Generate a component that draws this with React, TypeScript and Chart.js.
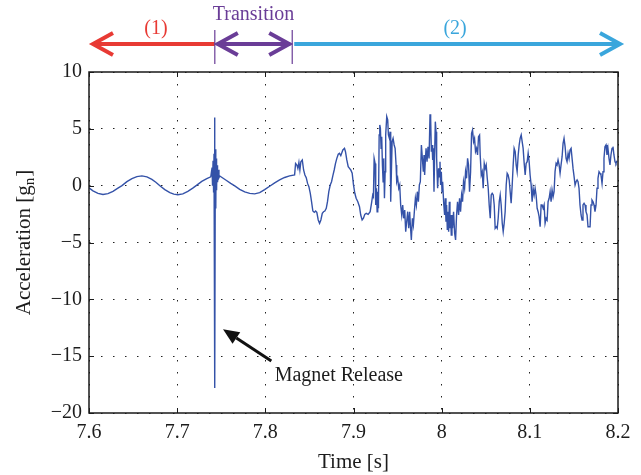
import React, { useEffect, useRef } from "react";
import { Chart, registerables } from "chart.js";
Chart.register(...registerables);

// ---- data ----
const times = [
  7.6000, 7.6045, 7.6102, 7.6159, 7.6215, 7.6272, 7.6328, 7.6374, 7.6430, 7.6487,
  7.6543, 7.6600, 7.6657, 7.6713, 7.6758, 7.6804, 7.6860, 7.6917, 7.6962, 7.7008,
  7.7064, 7.7121, 7.7177, 7.7223, 7.7279, 7.7336, 7.7381,
  7.7396, 7.7401, 7.7407, 7.7413, 7.7418, 7.7423, 7.7429, 7.7433, 7.7438, 7.7442,
  7.7447, 7.7452, 7.7458, 7.7465, 7.7474, 7.7483,
  7.7551, 7.7607, 7.7653, 7.7709, 7.7766, 7.7823, 7.7879, 7.7936, 7.7992, 7.8049,
  7.8106, 7.8162, 7.8219, 7.8275,
  7.8332, 7.8343, 7.8358, 7.8369, 7.8381, 7.8392, 7.8403, 7.8419, 7.8434, 7.8449,
  7.8464, 7.8479, 7.8494, 7.8510, 7.8524, 7.8539, 7.8555, 7.8570, 7.8584, 7.8600,
  7.8615, 7.8630, 7.8646, 7.8660, 7.8675, 7.8691, 7.8705, 7.8720, 7.8736, 7.8751,
  7.8766, 7.8781, 7.8796, 7.8811, 7.8827, 7.8841, 7.8856,
  7.8879, 7.8898, 7.8909, 7.8924, 7.8940, 7.8955, 7.8969, 7.8985, 7.9000, 7.9015,
  7.9030, 7.9049, 7.9068, 7.9082, 7.9098, 7.9113, 7.9128, 7.9144, 7.9166, 7.9189,
  7.9204, 7.9218, 7.9226, 7.9234, 7.9245, 7.9252, 7.9260, 7.9268, 7.9275, 7.9283,
  7.9291, 7.9298, 7.9305, 7.9313, 7.9320, 7.9328, 7.9336, 7.9343, 7.9351, 7.9359,
  7.9365, 7.9377, 7.9388, 7.9396, 7.9407, 7.9415, 7.9422, 7.9430, 7.9438, 7.9449,
  7.9461, 7.9472, 7.9483, 7.9490, 7.9501, 7.9513, 7.9524, 7.9535, 7.9547, 7.9558,
  7.9569, 7.9581, 7.9592, 7.9603, 7.9615, 7.9626, 7.9637,
  7.9645, 7.9656, 7.9668, 7.9679, 7.9690, 7.9702, 7.9713, 7.9724, 7.9736, 7.9747,
  7.9758, 7.9770, 7.9781, 7.9792, 7.9800, 7.9807, 7.9815, 7.9823, 7.9834, 7.9845,
  7.9857, 7.9868, 7.9875, 7.9883, 7.9891, 7.9898, 7.9905, 7.9913, 7.9920, 7.9928,
  7.9936, 7.9943, 7.9954, 7.9965, 7.9973, 7.9981, 7.9988, 7.9996, 8.0004, 8.0011,
  8.0022, 8.0033, 8.0041, 8.0049, 8.0056, 8.0064, 8.0072, 8.0079, 8.0087, 8.0094,
  8.0101, 8.0109, 8.0117, 8.0124, 8.0135, 8.0147, 8.0158, 8.0169, 8.0180, 8.0192,
  8.0203, 8.0214, 8.0226, 8.0237, 8.0248, 8.0260, 8.0271, 8.0282, 8.0294, 8.0305,
  8.0316, 8.0328, 8.0339, 8.0350, 8.0362, 8.0373, 8.0384, 8.0396, 8.0407, 8.0418,
  8.0430,
  8.0437, 8.0449, 8.0460, 8.0471, 8.0483, 8.0494, 8.0505, 8.0517, 8.0528, 8.0539,
  8.0551, 8.0562, 8.0573, 8.0585, 8.0596, 8.0607, 8.0619, 8.0630, 8.0641, 8.0653,
  8.0664, 8.0675, 8.0687, 8.0698, 8.0709, 8.0720, 8.0732, 8.0743, 8.0754, 8.0766,
  8.0777, 8.0788, 8.0800, 8.0811, 8.0822, 8.0834, 8.0845, 8.0856, 8.0868, 8.0879,
  8.0890, 8.0902, 8.0913, 8.0924, 8.0936, 8.0947, 8.0958, 8.0970, 8.0981, 8.0992,
  8.1003, 8.1015, 8.1026, 8.1037, 8.1049, 8.1060, 8.1071, 8.1083, 8.1094, 8.1105,
  8.1117, 8.1128, 8.1139, 8.1151, 8.1162, 8.1173, 8.1185, 8.1196, 8.1207, 8.1219,
  8.1230, 8.1241, 8.1252, 8.1264, 8.1275, 8.1286, 8.1298, 8.1309, 8.1320, 8.1332,
  8.1343, 8.1354, 8.1366, 8.1377, 8.1388, 8.1400, 8.1411, 8.1422, 8.1434, 8.1445,
  8.1456, 8.1468, 8.1479, 8.1490, 8.1502, 8.1513, 8.1524, 8.1536, 8.1547, 8.1558,
  8.1569, 8.1581, 8.1592, 8.1603, 8.1615, 8.1626, 8.1637, 8.1649, 8.1660, 8.1671,
  8.1683, 8.1694, 8.1705, 8.1717, 8.1728, 8.1739, 8.1751, 8.1762, 8.1773, 8.1785,
  8.1796, 8.1807, 8.1819, 8.1830, 8.1841, 8.1852, 8.1864, 8.1875, 8.1886, 8.1898,
  8.1909, 8.1920, 8.1932, 8.1943, 8.1954, 8.1966, 8.1977, 8.1988,
];

const accel = [
  -0.2, -0.45, -0.68, -0.78, -0.7, -0.5, -0.22, 0.0, 0.35, 0.62,
  0.8, 0.86, 0.78, 0.55, 0.3, 0.0, -0.35, -0.62, -0.75, -0.8,
  -0.72, -0.5, -0.22, 0.05, 0.38, 0.62, 0.78,
  1.6, 0.0, 2.2, -0.6, 2.8, 6.0, -17.8, 3.2, -2.0, 2.4,
  -0.4, 1.8, 0.3, 1.4, 0.7, 0.85,
  0.5, 0.2, -0.02, -0.32, -0.55, -0.68, -0.72, -0.62, -0.35, -0.05,
  0.25, 0.5, 0.72, 0.86,
  0.94, 1.96, 1.82, 1.52, 2.05, 1.38, 2.11, 2.26, 1.38, 0.94,
  0.7, 0.2, -0.09, -0.67, -1.41, -2.23, -2.35, -2.23, -2.35, -3.02,
  -3.31, -3.02, -2.43, -2.29, -2.23, -1.99, -1.41, -0.53, 0.06, 0.35,
  0.88, 1.38, 1.96, 2.4, 2.76, 2.84, 2.64,
  3.14, 3.28, 2.99, 2.26, 1.67, 1.52, 1.38, 1.09, 0.06, -0.67,
  -1.11, -1.41, -1.85, -2.58, -3.02, -2.87, -2.52, -2.43, -2.52, -2.29,
  -1.55, -0.82, -0.97, 2.4, 1.96, -1.7, -0.23, -2.29, -0.53, -1.99,
  4.46, 5.34, 5.04, 3.28, 4.31, 1.82, 0.35, 2.4, -1.11, 1.23,
  4.46, 6.07, 5.78, 4.46, 4.16, 4.75, -1.41, 1.23, 3.87, 4.16,
  3.58, 3.28, 1.82, 0.35, 0.65, -0.23, 0.06, -1.7, -2.58, -1.7,
  -2.87, -2.14, -4.05, -3.17, -2.29, -3.75, -2.29,
  -3.46, -4.78, -2.87, -3.46, -2.29, -1.11, -1.7, -0.53, -1.41, 0.06,
  0.35, 3.58, 2.4, 1.23, 2.7, 0.94, 2.26, 3.28, 2.11, 3.43,
  2.4, 6.28, 5.92, 2.99, 3.58, 2.26, 3.28, -0.53, 2.7, 5.63,
  4.75, 2.4, -0.23, 1.52, 0.79, 2.11, 0.06, 1.23, -0.53, 0.35,
  -1.41, -2.58, -1.11, -3.17, -1.7, -3.9, -2.29, -4.05, -1.41, -3.75,
  -2.58, -4.34, -2.58, -3.75, -2.29, -4.19, -4.78, -2.58, -1.41, -2.58,
  -1.11, -2.29, -0.82, -1.41, 0.35, -0.23, 1.23, 0.65, 2.4, 1.82,
  -0.53, 1.23, 4.6, 4.9, 3.87, 4.16, 2.99, 3.28, 2.7, 4.31,
  4.46,
  2.7, 0.94, 1.23, -0.23, 1.96, 1.52, 1.82, 0.65, -0.23, -1.7,
  -2.87, -0.82, -0.67, -0.82, -1.7, -3.75, -3.61, -3.75, -2.87, -1.41,
  -0.82, -1.7, -3.31, -4.05, -3.31, -2.29, 0.06, 1.09, 0.94, 0.5,
  -0.53, -1.55, 0.06, 1.82, 3.28, 2.99, 1.82, 1.23, 2.7, 3.58,
  4.16, 4.46, 3.87, 3.28, 1.96, 0.94, 1.96, 2.11, 2.84, 2.11,
  0.94, 0.06, -1.41, -0.23, -0.82, -0.23, -0.82, -1.99, -2.29, -2.73,
  -3.61, -1.7, -1.7, -1.99, -1.7, -3.31, -2.87, -3.02, -1.41, -1.11,
  -0.53, -1.41, -0.38, -0.97, -0.53, 1.23, 1.96, 1.82, 2.26, 1.82,
  1.09, 1.82, 2.55, 3.72, 4.16, 3.43, 2.4, 2.11, 2.84, 2.4,
  3.14, 3.28, 2.4, 1.52, 0.79, 0.06, 0.35, 0.5, 0.35, -0.23,
  -1.7, -2.58, -3.02, -1.7, -1.55, -1.7, -2.29, -2.58, -3.61, -3.61,
  -3.61, -1.7, -1.26, -1.41, -1.7, -2.29, -1.7, -0.23, 0.65, 1.23,
  1.09, 0.94, 0.2, 1.23, 2.4, 3.43, 3.58, 2.7, 3.28, 2.4,
  1.82, 2.7, 3.28, 3.43, 2.7, 2.11, 1.96, 2.2,
];

const xTicks = [7.6, 7.7, 7.8, 7.9, 8.0, 8.1, 8.2];
const xTickLabels = ["7.6", "7.7", "7.8", "7.9", "8", "8.1", "8.2"];
const yTicks = [-20, -15, -10, -5, 0, 5, 10];
const yTickLabels = ["\u221220", "\u221215", "\u221210", "\u22125", "0", "5", "10"];

// phase boundaries along the time axis: (1) | Transition | (2)
const phaseTimes = [7.6, 7.7427, 7.8305, 8.2];
const phaseLabels = ["(1)", "Transition", "(2)"];
const phaseColors = ["#E83A34", "#6A3D97", "#3AA6DC"];

// Magnet release annotation (time, acceleration)
const releaseTip = [7.752, -12.63];
const releaseTail = [7.8068, -15.42];
const releaseTextPos = [7.8106, -16.75];
const releaseText = "Magnet Release";

const xTitle = "Time [s]";
const FONT = "'Liberation Serif', 'DejaVu Serif', serif";
const TEXT = "#1c1c1c";
const LINE = "#3452A8";

const annotations = {
  id: "annotations",
  afterDraw(chart: any) {
    const { ctx, chartArea: a, scales } = chart;
    const xs = scales.x, ys = scales.y;
    ctx.save();
    // frame
    ctx.strokeStyle = "#1a1a1a";
    ctx.lineWidth = 1.5;
    ctx.strokeRect(a.left, a.top, a.right - a.left, a.bottom - a.top);
    // inner tick marks
    ctx.lineWidth = 1;
    ctx.beginPath();
    xTicks.forEach((v) => {
      const px = Math.round(xs.getPixelForValue(v)) + 0.5;
      ctx.moveTo(px, a.bottom); ctx.lineTo(px, a.bottom - 5);
      ctx.moveTo(px, a.top); ctx.lineTo(px, a.top + 5);
    });
    yTicks.forEach((v) => {
      const py = Math.round(ys.getPixelForValue(v)) + 0.5;
      ctx.moveTo(a.left, py); ctx.lineTo(a.left + 5, py);
      ctx.moveTo(a.right, py); ctx.lineTo(a.right - 5, py);
    });
    ctx.stroke();

    // axis titles
    ctx.fillStyle = TEXT;
    ctx.font = `21px ${FONT}`;
    ctx.textAlign = "center";
    ctx.textBaseline = "alphabetic";
    ctx.fillText(xTitle, (a.left + a.right) / 2, 468);

    ctx.save();
    ctx.translate(30, (a.top + a.bottom) / 2);
    ctx.rotate(-Math.PI / 2);
    const p1 = "Acceleration [g";
    const p2 = "n";
    const p3 = "]";
    ctx.font = `21px ${FONT}`;
    const w1 = ctx.measureText(p1).width;
    const w3 = ctx.measureText(p3).width;
    ctx.font = `15px ${FONT}`;
    const w2 = ctx.measureText(p2).width;
    const total = w1 + w2 + w3 + 1;
    let cx = -total / 2;
    ctx.textAlign = "left";
    ctx.font = `21px ${FONT}`;
    ctx.fillText(p1, cx, 0);
    cx += w1;
    ctx.font = `15px ${FONT}`;
    ctx.fillText(p2, cx, 4);
    cx += w2 + 1;
    ctx.font = `21px ${FONT}`;
    ctx.fillText(p3, cx, 0);
    ctx.restore();

    // phase arrows on top
    const ay = a.top - 28;
    const bx = phaseTimes.map((t) => xs.getPixelForValue(t));
    ctx.lineWidth = 4;
    ctx.lineJoin = "miter";
    ctx.lineCap = "butt";
    const chevron = (tx: number, dir: number, color: string) => {
      ctx.strokeStyle = color;
      ctx.beginPath();
      ctx.moveTo(tx + dir * 20, ay - 11);
      ctx.lineTo(tx, ay);
      ctx.lineTo(tx + dir * 20, ay + 11);
      ctx.stroke();
    };
    // (1) red
    ctx.strokeStyle = phaseColors[0];
    ctx.beginPath();
    ctx.moveTo(bx[0] + 5, ay); ctx.lineTo(bx[1], ay); ctx.stroke();
    chevron(bx[0] + 4, 1, phaseColors[0]);
    // transition purple
    ctx.strokeStyle = phaseColors[1];
    ctx.beginPath();
    ctx.moveTo(bx[1] + 2, ay); ctx.lineTo(bx[2] - 2, ay); ctx.stroke();
    chevron(bx[1] + 3, 1, phaseColors[1]);
    chevron(bx[2] - 3, -1, phaseColors[1]);
    // (2) cyan
    ctx.strokeStyle = phaseColors[2];
    ctx.beginPath();
    ctx.moveTo(bx[2] + 2, ay); ctx.lineTo(bx[3] + 1, ay); ctx.stroke();
    chevron(bx[3] + 2, -1, phaseColors[2]);
    // boundary markers
    ctx.strokeStyle = phaseColors[1];
    ctx.lineWidth = 1.2;
    ctx.beginPath();
    [bx[1], bx[2]].forEach((px) => {
      ctx.moveTo(px, ay - 14); ctx.lineTo(px, ay + 20);
    });
    ctx.stroke();
    // phase labels
    ctx.font = `20px ${FONT}`;
    ctx.textAlign = "center";
    ctx.textBaseline = "middle";
    ctx.fillStyle = phaseColors[0];
    ctx.fillText(phaseLabels[0], (bx[0] + bx[1]) / 2 + 4, ay - 15);
    ctx.fillStyle = phaseColors[1];
    ctx.fillText(phaseLabels[1], (bx[1] + bx[2]) / 2, ay - 29);
    ctx.fillStyle = phaseColors[2];
    ctx.fillText(phaseLabels[2], (bx[2] + bx[3]) / 2, ay - 15);

    // magnet release arrow
    const tx = xs.getPixelForValue(releaseTip[0]);
    const ty = ys.getPixelForValue(releaseTip[1]);
    const sx = xs.getPixelForValue(releaseTail[0]);
    const sy = ys.getPixelForValue(releaseTail[1]);
    const ang = Math.atan2(ty - sy, tx - sx);
    const hl = 16, hw = 7;
    const bxp = tx - hl * Math.cos(ang), byp = ty - hl * Math.sin(ang);
    ctx.strokeStyle = "#111";
    ctx.fillStyle = "#111";
    ctx.lineWidth = 3;
    ctx.beginPath();
    ctx.moveTo(sx, sy); ctx.lineTo(bxp, byp); ctx.stroke();
    ctx.beginPath();
    ctx.moveTo(tx, ty);
    ctx.lineTo(bxp + hw * Math.sin(ang), byp - hw * Math.cos(ang));
    ctx.lineTo(bxp - hw * Math.sin(ang), byp + hw * Math.cos(ang));
    ctx.closePath();
    ctx.fill();
    ctx.fillStyle = TEXT;
    ctx.textAlign = "left";
    ctx.textBaseline = "middle";
    ctx.font = `20px ${FONT}`;
    ctx.fillText(releaseText, xs.getPixelForValue(releaseTextPos[0]), ys.getPixelForValue(releaseTextPos[1]));
    ctx.restore();
  },
};

export default function App() {
  const ref = useRef<HTMLCanvasElement>(null);
  useEffect(() => {
    const points = times.map((t, i) => ({ x: t, y: accel[i] }));
    const chart = new Chart(ref.current as HTMLCanvasElement, {
      type: "line",
      data: {
        datasets: [
          {
            data: points,
            borderColor: LINE,
            borderWidth: 1.4,
            pointRadius: 0,
            tension: 0,
            fill: false,
          },
        ],
      },
      options: {
        animation: false,
        responsive: false,
        devicePixelRatio: 1,
        parsing: false,
        layout: { padding: { top: 72, right: 23, left: 0, bottom: 0 } },
        plugins: { legend: { display: false }, tooltip: { enabled: false } },
        scales: {
          x: {
            type: "linear",
            min: 7.6,
            max: 8.2,
            afterBuildTicks: (s: any) => { s.ticks = xTicks.map((v) => ({ value: v })); },
            afterFit: (s: any) => { s.height = 62; },
            ticks: {
              autoSkip: false,
              maxRotation: 0,
              padding: 8,
              color: TEXT,
              font: { family: FONT, size: 20 },
              callback: (_v: any, i: number) => xTickLabels[i],
            },
            grid: { color: "#222", lineWidth: 1, drawTicks: false },
            border: { display: false, dash: [1.5, 10.5] },
          },
          y: {
            type: "linear",
            min: -20,
            max: 10,
            afterBuildTicks: (s: any) => { s.ticks = yTicks.map((v) => ({ value: v })); },
            afterFit: (s: any) => { s.width = 89; },
            ticks: {
              autoSkip: false,
              padding: 7,
              color: TEXT,
              font: { family: FONT, size: 20 },
              callback: (_v: any, i: number) => yTickLabels[i],
            },
            grid: { color: "#222", lineWidth: 1, drawTicks: false },
            border: { display: false, dash: [1.5, 10.5] },
          },
        },
      },
      plugins: [annotations],
    } as any);
    return () => chart.destroy();
  }, []);
  return (
    <div style={{ position: "fixed", left: 0, top: 0, width: 641, height: 475, background: "#fff" }}>
      <canvas ref={ref} width={641} height={475} style={{ display: "block" }} />
    </div>
  );
}
